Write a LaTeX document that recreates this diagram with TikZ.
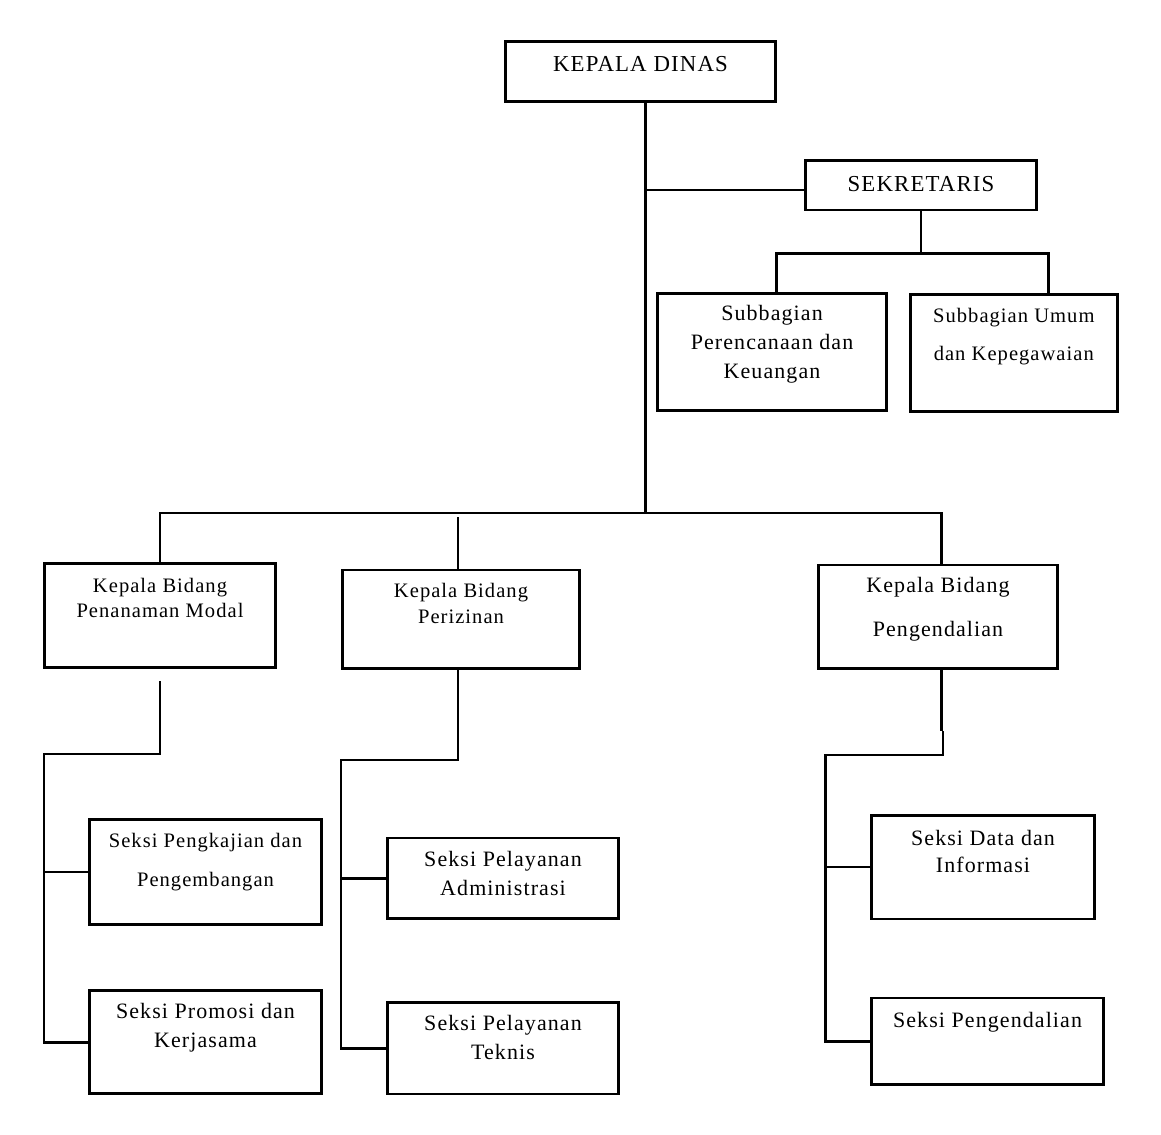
\documentclass[tikz,border=0pt]{standalone}
\usepackage{fontspec}
\setmainfont{Liberation Serif}[LetterSpace=5]
\usetikzlibrary{positioning}

\newcommand{\fbig}[1]{\fontsize{12.5pt}{#1pt}\selectfont}
\newcommand{\fsmall}[1]{\fontsize{11.7pt}{#1pt}\selectfont}

\begin{document}
\begin{tikzpicture}[x=0.02cm, y=-0.02cm,
    unit/.style={draw, line width=1.6pt, inner sep=0pt},
    caption/.style={align=center, inner sep=0pt},
    link/.style={line width=1.7pt},
    hairlink/.style={line width=1.2pt}]
    \useasboundingbox (0,0) rectangle (1161,1135);

    % Kepala dinas and sekretariat
    \node[unit, minimum width=5.4cm, minimum height=1.2cm] (kd) at (640.5,71.5) {};
    \node[caption, font=\fontsize{13pt}{16pt}\selectfont, below=0.31cm of kd.north] (kd-t) {KEPALA DINAS};
    \node[unit, minimum width=4.62cm, minimum height=0.99cm] (sek) at (921,185.3) {};
    \node[caption, font=\fontsize{13pt}{16pt}\selectfont, below=0.33cm of sek.north] (sek-t) {SEKRETARIS};
    \node[unit, minimum width=4.58cm, minimum height=2.34cm] (sp) at (772,351.7) {};
    \node[caption, font=\fbig{16.5}, below=0.27cm of sp.north] (sp-t) {Subbagian\\Perencanaan dan\\Keuangan};
    \node[unit, minimum width=4.14cm, minimum height=2.33cm] (su) at (1013.8,353) {};
    \node[caption, font=\fsmall{21.8}, below=0.29cm of su.north] (su-t) {Subbagian Umum\\dan Kepegawaian};

    % Kepala bidang
    \node[unit, minimum width=4.62cm, minimum height=2.08cm] (kpm) at (160,615.8) {};
    \node[caption, font=\fsmall{14.6}, below=0.30cm of kpm.north] (kpm-t) {Kepala Bidang\\Penanaman Modal};
    \node[unit, minimum width=4.74cm, minimum height=1.97cm] (kpz) at (461,619.2) {};
    \node[caption, font=\fsmall{15}, below=0.28cm of kpz.north] (kpz-t) {Kepala Bidang\\Perizinan};
    \node[unit, minimum width=4.78cm, minimum height=2.07cm] (kpg) at (938,616.7) {};
    \node[caption, font=\fbig{25}, below=0.27cm of kpg.north] (kpg-t) {Kepala Bidang\\Pengendalian};

    % Seksi
    \node[unit, minimum width=4.64cm, minimum height=2.09cm] (spp) at (205.5,872) {};
    \node[caption, font=\fsmall{22.2}, below=0.29cm of spp.north] (spp-t) {Seksi Pengkajian dan\\Pengembangan};
    \node[unit, minimum width=4.64cm, minimum height=2.06cm] (spk) at (205.5,1042.3) {};
    \node[caption, font=\fbig{16.7}, below=0.27cm of spk.north] (spk-t) {Seksi Promosi dan\\Kerjasama};
    \node[unit, minimum width=4.62cm, minimum height=1.61cm] (adm) at (503,878.3) {};
    \node[caption, font=\fbig{16.1}, below=0.29cm of adm.north] (adm-t) {Seksi Pelayanan\\Administrasi};
    \node[unit, minimum width=4.62cm, minimum height=1.83cm] (tek) at (503,1048.2) {};
    \node[caption, font=\fbig{16.5}, below=0.28cm of tek.north] (tek-t) {Seksi Pelayanan\\Teknis};
    \node[unit, minimum width=4.46cm, minimum height=2.07cm] (dat) at (983,867.3) {};
    \node[caption, font=\fbig{15.5}, below=0.32cm of dat.north] (dat-t) {Seksi Data dan\\Informasi};
    \node[unit, minimum width=4.64cm, minimum height=1.73cm] (spg) at (987.5,1041.3) {};
    \node[caption, font=\fbig{16}, below=0.30cm of spg.north] (spg-t) {Seksi Pengendalian};

    % Trunk and sekretariat lines
    \coordinate (trunk) at (645.5,513);
    \coordinate (sekjoin) at (645.5,190);
    \coordinate (sekbus) at (921,253.5);
    \draw[link] (kd.south -| trunk) -- (trunk);
    \draw[link] (sekjoin) -- (sekjoin -| sek.west);
    \draw[link] (sek.south) -- (sekbus);
    \draw[link] ([xshift=0.09cm]sp.north) |- (sekbus) -| ([xshift=0.69cm]su.north);

    % Bus to kepala bidang
    \coordinate (pzin) at ([xshift=-0.06cm]kpz.north);
    \draw[hairlink] (kpm.north) |- (trunk) -| ([xshift=0.07cm]kpg.north);
    \draw[link, shorten >=0.09cm] (pzin) -- (pzin |- trunk);

    % Penanaman modal branch
    \coordinate (pmbend) at (44,754);
    \draw[link, shorten <=0.24cm] (kpm.south) |- (pmbend) |- (spk.west);
    \draw[link] (pmbend) |- (spp.west);

    % Perizinan branch
    \coordinate (pzout) at ([xshift=-0.06cm]kpz.south);
    \coordinate (pzbend) at (341,760);
    \draw[link] (pzout) |- (pzbend) |- (tek.west);
    \draw[link] (pzbend) |- (adm.west);

    % Pengendalian branch
    \coordinate (pgout) at ([xshift=0.07cm]kpg.south);
    \coordinate (pgjog) at (943,731);
    \coordinate (pgbend) at (825.5,755);
    \draw[hairlink] (pgout) -- (pgout |- pgjog);
    \draw[link] (pgjog) |- (pgbend) |- (spg.west);
    \draw[hairlink] (pgbend) |- (dat.west);
\end{tikzpicture}
\end{document}
